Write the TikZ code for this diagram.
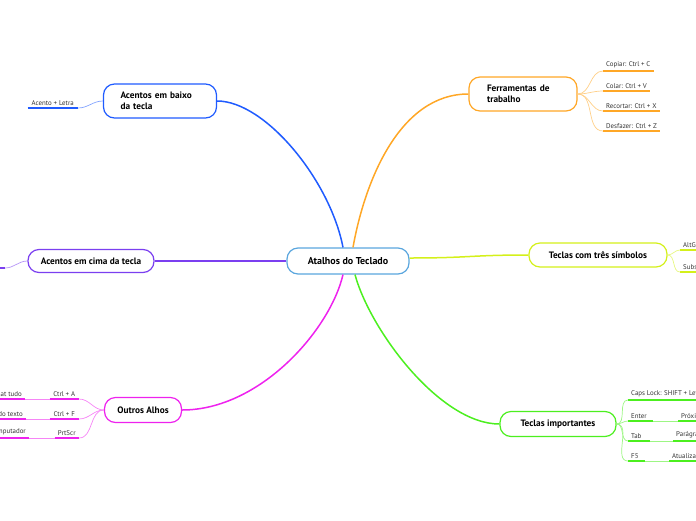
\documentclass[tikz,border=0pt]{standalone}
\usepackage{fontspec}
\setmainfont{PT Sans}
\usetikzlibrary{positioning}

\definecolor{rootblue}{HTML}{5AA6DE}
\definecolor{mapblue}{HTML}{1F5BFF}
\definecolor{maporange}{HTML}{FFA726}
\definecolor{maplime}{HTML}{D4F01A}
\definecolor{mapgreen}{HTML}{4CEF1F}
\definecolor{mapmagenta}{HTML}{EE22EE}
\definecolor{mappurple}{HTML}{7B3FF0}

\tikzset{
  rootbox/.style={draw=rootblue,line width=1.2pt,rounded corners=11pt,fill=white,minimum width=122pt,minimum height=26pt,font=\bfseries\fontsize{10}{12}\selectfont},
  topic/.style={draw=#1,line width=1.2pt,rounded corners=11pt,fill=white,font=\bfseries\fontsize{9.3}{11.5}\selectfont,inner ysep=3pt},
  leaf/.style={inner xsep=3pt,inner ysep=2.5pt,text=black!80,font=\fontsize{6.9}{8}\selectfont,
    append after command={(\tikzlastnode.south west) edge[draw=#1,line width=1.6pt] (\tikzlastnode.south east)}},
  branch/.style={draw=#1,line width=1.5pt},
  twig/.style={draw=#1!55,line width=0.7pt},
}

\begin{document}
\begin{tikzpicture}[x=1pt,y=-1pt]
\useasboundingbox (0,0) rectangle (696,520);
% central topic
\node[rootbox] (root) at (348,261) {Atalhos do Teclado};
% main topics
\node[topic=mapblue,text width=79pt,inner xsep=17pt,minimum height=34pt,align=left] (baixo) at (160,101) {Acentos em baixo\\da tecla};
\node[topic=maporange,text width=72pt,inner xsep=18pt,minimum height=34pt,align=left] (ferr) at (523,94) {Ferramentas de\\trabalho};
\node[topic=mappurple,minimum width=126pt,minimum height=23pt] (cima) at (91,261) {Acentos em cima da tecla};
\node[topic=maplime,minimum width=138pt,minimum height=24pt] (tres) at (598,255) {Teclas com três símbolos};
\node[topic=mapgreen,minimum width=116pt,minimum height=25pt] (impo) at (558,424) {Teclas importantes};
\node[topic=mapmagenta,minimum width=77pt,minimum height=25pt] (outros) at (143,410) {Outros Alhos};

\draw[branch=mapblue] ([xshift=-5pt]root.north) .. controls (330,180) and (265,101) .. (baixo.east);
\draw[branch=maporange] ([xshift=5pt]root.north) .. controls (365,180) and (400,94) .. (ferr.west);
\draw[branch=maplime] ([yshift=3pt]root.east) .. controls (470,258) and (470,255) .. (tres.west);
\draw[branch=mapgreen] ([xshift=7pt]root.south) .. controls (370,330) and (440,424) .. (impo.west);
\draw[branch=mapmagenta] ([xshift=-5pt]root.south) .. controls (330,330) and (260,410) .. (outros.east);
\draw[branch=mappurple] (root.west) -- (cima.east);

% Acentos em baixo da tecla
\node[leaf=mapblue,inner xsep=4pt,anchor=south east] (letra) at (78,108) {Acento + Letra};
\draw[twig=mapblue] (baixo.west) to[out=180,in=0] (letra.south east);

% Ferramentas de trabalho
\node[leaf=maporange,anchor=south west] (copiar) at (603,71) {Copiar: Ctrl + C};
\node[leaf=maporange,anchor=south west] (colar) at (603,91) {Colar: Ctrl + V};
\node[leaf=maporange,anchor=south west] (recortar) at (603,111) {Recortar: Ctrl + X};
\node[leaf=maporange,anchor=south west] (desfazer) at (603,131) {Desfazer: Ctrl + Z};
\draw[twig=maporange] (ferr.east) to[out=0,in=180] (copiar.south west);
\draw[twig=maporange] (ferr.east) to[out=0,in=180] (colar.south west);
\draw[twig=maporange] (ferr.east) to[out=0,in=180] (recortar.south west);
\draw[twig=maporange] (ferr.east) to[out=0,in=180] (desfazer.south west);

% Acentos em cima da tecla
\coordinate (cimaleaf) at (5,268);
\coordinate (cimaend) at (-20,268);
\draw[twig=mappurple] (cima.west) to[out=180,in=0] (cimaleaf);
\draw[draw=mappurple,line width=1.6pt] (cimaleaf) -- (cimaend);

% Teclas com tres simbolos
\node[leaf=maplime,anchor=south west] (altgr) at (680,250) {AltGr};
\node[leaf=maplime,anchor=south west] (subs) at (680,272) {Subscrito};
\draw[twig=maplime] (tres.east) to[out=0,in=180] (altgr.south west);
\draw[twig=maplime] (tres.east) to[out=0,in=180] (subs.south west);

% Teclas importantes
\node[leaf=mapgreen,anchor=south west] (caps) at (628,400) {Caps Lock: SHIFT + Letra};
\node[leaf=mapgreen,anchor=south west,text width=19pt,align=left] (enter) at (628,421) {Enter};
\node[leaf=mapgreen,anchor=south west,text width=16pt,align=left] (tab) at (628,441) {Tab};
\node[leaf=mapgreen,anchor=south west,text width=11pt,align=left] (ffive) at (628,461) {F5};
\node[leaf=mapgreen,anchor=south west] (proxima) at (678,421) {Próxima linha};
\node[leaf=mapgreen,anchor=south west] (paragrafo) at (673,441) {Parágrafo};
\node[leaf=mapgreen,anchor=south west] (atualizar) at (669,461) {Atualizar};
\draw[twig=mapgreen] (impo.east) to[out=0,in=180] (caps.south west);
\draw[twig=mapgreen] (impo.east) to[out=0,in=180] (enter.south west);
\draw[twig=mapgreen] (impo.east) to[out=0,in=180] (tab.south west);
\draw[twig=mapgreen] (impo.east) to[out=0,in=180] (ffive.south west);
\draw[twig=mapgreen] (enter.south east) -- (proxima.south west);
\draw[twig=mapgreen] (tab.south east) -- (paragrafo.south west);
\draw[twig=mapgreen] (ffive.south east) -- (atualizar.south west);

% Outros Alhos
\node[leaf=mapmagenta,anchor=south east,minimum width=29pt] (ctrla) at (79,399) {Ctrl + A};
\node[leaf=mapmagenta,anchor=south east,minimum width=29pt] (ctrlf) at (79,419) {Ctrl + F};
\node[leaf=mapmagenta,anchor=south east,minimum width=24pt] (prtscr) at (79,438) {PrtScr};
\node[leaf=mapmagenta,anchor=south east] (selec) at (25,399) {Selecionat tudo};
\node[leaf=mapmagenta,anchor=south east] (local) at (26,419) {Localizar do texto};
\node[leaf=mapmagenta,anchor=south east] (print) at (29,438) {Print do computador};
\draw[twig=mapmagenta] (outros.west) to[out=180,in=0] (ctrla.south east);
\draw[twig=mapmagenta] (outros.west) to[out=180,in=0] (ctrlf.south east);
\draw[twig=mapmagenta] (outros.west) to[out=180,in=0] (prtscr.south east);
\draw[twig=mapmagenta] (ctrla.south west) -- (selec.south east);
\draw[twig=mapmagenta] (ctrlf.south west) -- (local.south east);
\draw[twig=mapmagenta] (prtscr.south west) -- (print.south east);
\end{tikzpicture}
\end{document}
